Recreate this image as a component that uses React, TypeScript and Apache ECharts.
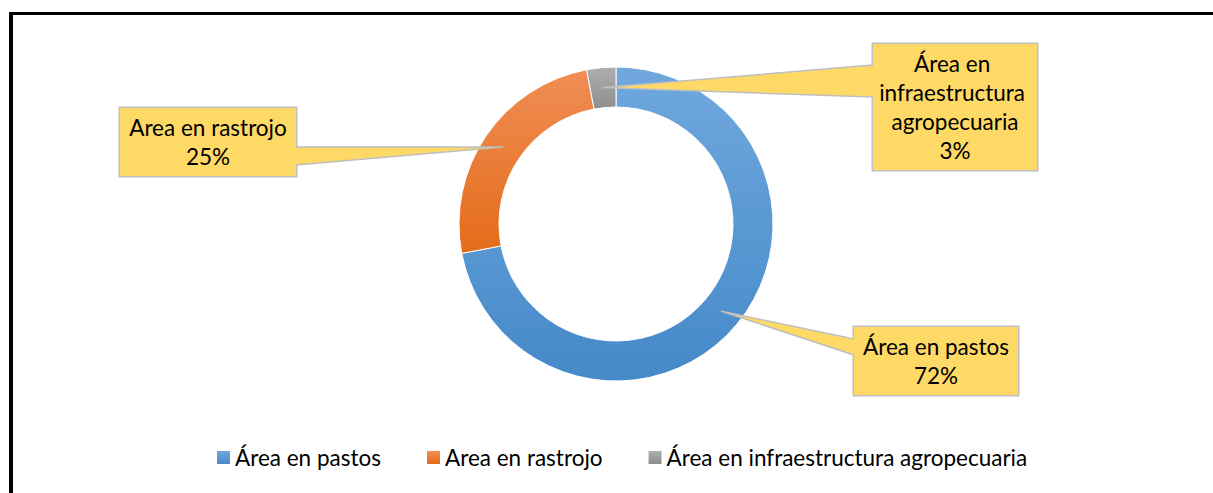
import React, { useEffect, useRef } from 'react';
import * as echarts from 'echarts';

const categories = ['Área en pastos', 'Area en rastrojo', 'Área en infraestructura agropecuaria'];
const values = [72, 25, 3];
const topColors = ['#70A8DD', '#F18D55', '#AEAEAE'];
const bottomColors = ['#4589C9', '#E46C1A', '#8E8E8E'];

const FONT = 'Lato';
const FONT_SIZE = 22.5;
const CENTER = [616, 224];
const R_IN = 117;
const R_OUT = 157;
const BOX_FILL = '#FFD966';
const BOX_STROKE = '#BFBFBF';

// Callout layout (box centre, box width, wedge base on box edge, inward direction)
const callouts = [
  { cx: 936, cy: 361, w: 164, edgeX: 854, y1: 339, y2: 355, dir: 1 },
  { cx: 208, cy: 142, w: 176, edgeX: 296, y1: 147, y2: 165, dir: -1 },
  { cx: 955, cy: 107, w: 164, edgeX: 873, y1: 65, y2: 97, dir: 1 },
];

export default function App() {
  const ref = useRef<HTMLDivElement>(null);
  useEffect(() => {
    if (!ref.current) return;
    const chart = echarts.init(ref.current, null, { renderer: 'svg' });
    const total = values.reduce((a, b) => a + b, 0);
    let acc = 0;
    const graphics: any[] = [];
    values.forEach((v, i) => {
      const ang = ((acc + v / 2) / total) * 2 * Math.PI;
      acc += v;
      const rm = (R_IN + R_OUT) / 2;
      const tx = CENTER[0] + rm * Math.sin(ang);
      const ty = CENTER[1] - rm * Math.cos(ang);
      const c = callouts[i];
      const inX = c.edgeX + c.dir * 4;
      graphics.push({
        type: 'polygon',
        z: 10,
        shape: { points: [[tx, ty], [c.edgeX, c.y1], [inX, c.y1], [inX, c.y2], [c.edgeX, c.y2]] },
        style: { fill: BOX_FILL },
      });
      graphics.push({
        type: 'polyline',
        z: 11,
        shape: { points: [[c.edgeX, c.y1], [tx, ty], [c.edgeX, c.y2]] },
        style: { stroke: BOX_STROKE, lineWidth: 1.5, lineJoin: 'round', fill: null },
      });
    });

    const data = categories.map((name, i) => ({
      name,
      value: values[i],
      itemStyle: {
        color: new echarts.graphic.LinearGradient(0, 0, 0, 1, [
          { offset: 0, color: topColors[i] },
          { offset: 1, color: bottomColors[i] },
        ]),
      },
      label: { width: callouts[i].w },
    }));

    chart.setOption({
      animation: false,
      textStyle: { fontFamily: FONT },
      legend: {
        left: 217,
        top: 446,
        padding: 0,
        itemWidth: 13,
        itemHeight: 13,
        itemGap: 46,
        icon: 'rect',
        itemStyle: { borderWidth: 0 },
        textStyle: { fontFamily: FONT, fontSize: FONT_SIZE, color: '#000' },
        data: categories,
      },
      graphic: graphics,
      series: [
        {
          type: 'pie',
          center: CENTER,
          radius: [R_IN, R_OUT],
          startAngle: 90,
          clockwise: true,
          avoidLabelOverlap: false,
          itemStyle: { borderColor: '#fff', borderWidth: 1 },
          emphasis: { disabled: true },
          labelLine: { show: false },
          label: {
            show: true,
            position: 'outside',
            formatter: (p: any) => `${p.name}\n${Math.round(p.percent)}%`,
            fontFamily: FONT,
            fontSize: FONT_SIZE,
            lineHeight: 29,
            color: '#000',
            backgroundColor: BOX_FILL,
            borderColor: BOX_STROKE,
            borderWidth: 1.5,
            padding: [5, 0],
            overflow: 'break',
            align: 'center',
          },
          labelLayout: (params: any) => {
            const c = callouts[params.dataIndex];
            return { x: c.cx, y: c.cy, align: 'center', verticalAlign: 'middle' };
          },
          data,
        },
      ],
    });
    return () => chart.dispose();
  }, []);

  return (
    <div style={{ position: 'absolute', left: 0, top: 0, width: 1213, height: 493, background: '#fff' }}>
      <div ref={ref} style={{ position: 'absolute', left: 0, top: 0, width: 1213, height: 493 }} />
      <div
        style={{
          position: 'absolute',
          left: 9,
          top: 12,
          width: 1213 - 9,
          height: 493 - 12,
          borderLeft: '4px solid #000',
          borderTop: '3px solid #000',
          boxSizing: 'border-box',
          pointerEvents: 'none',
        }}
      />
    </div>
  );
}
